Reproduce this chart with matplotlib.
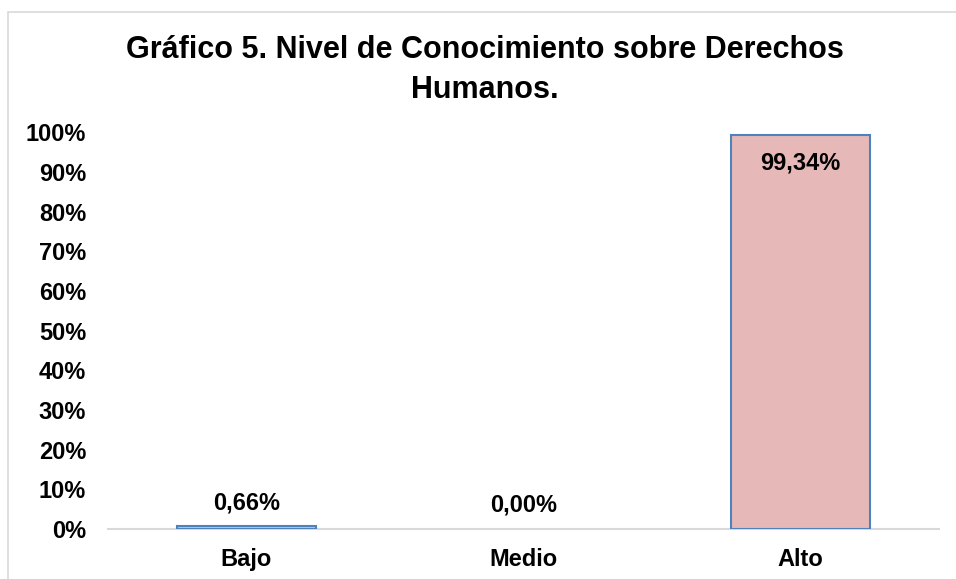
import matplotlib
matplotlib.use("Agg")
import matplotlib.pyplot as plt
from matplotlib.patches import Rectangle

categories = ["Bajo", "Medio", "Alto"]
values = [0.66, 0.00, 99.34]
value_labels = ["0,66%", "0,00%", "99,34%"]
ytick_values = [0, 10, 20, 30, 40, 50, 60, 70, 80, 90, 100]
ytick_labels = [f"{v}%" for v in ytick_values]
title = "Gráfico 5. Nivel de Conocimiento sobre Derechos\nHumanos."

plt.rcParams['font.family'] = ['Liberation Sans', 'DejaVu Sans']

W, H = 956, 579
fig = plt.figure(figsize=(W / 100, H / 100), dpi=100)

# outer chart border (light gray)
fig.patches.append(Rectangle((8 / W, -0.1), 1.2, 1 - 11.5 / H + 0.1,
                             transform=fig.transFigure, fill=False,
                             edgecolor="#d9d9d9", linewidth=1.2))

ax = fig.add_axes([108 / W, 1 - 529 / H, (939 - 108) / W, (529 - 132.4) / H])
x = list(range(len(categories)))
edgecolors = ["#4F81BD" if v > 0 else "none" for v in values]
ax.bar(x, values, width=0.505, color="#E6B9B8", edgecolor=edgecolors, linewidth=1.5, zorder=3)
ax.set_xlim(-0.5, 2.5)
ax.set_ylim(0, 100)

ax.set_yticks(ytick_values)
ax.set_yticklabels(ytick_labels, fontsize=17, fontweight="bold")
ax.set_xticks(x)
ax.set_xticklabels(categories, fontsize=17, fontweight="bold")
ax.tick_params(axis="y", length=0, pad=15.8)
ax.tick_params(axis="x", length=0, pad=13.5)

for s in ["left", "right", "top"]:
    ax.spines[s].set_visible(False)
ax.spines["bottom"].set_color("#d9d9d9")
ax.spines["bottom"].set_linewidth(1.5)
ax.spines["bottom"].set_zorder(2)

for xi, v, lab in zip(x, values, value_labels):
    if v > 50:
        ax.annotate(lab, (xi, v), xytext=(0, -20), textcoords="offset points",
                    ha="center", va="center", fontsize=17, fontweight="bold")
    else:
        ax.annotate(lab, (xi, v), xytext=(0, 17), textcoords="offset points",
                    ha="center", va="center", fontsize=17, fontweight="bold")

fig.text(484.5 / W, 1 - 70 / H, title, ha="center", va="center", fontsize=22,
         fontweight="bold", linespacing=1.45)

fig.savefig("out.png", dpi=100)
